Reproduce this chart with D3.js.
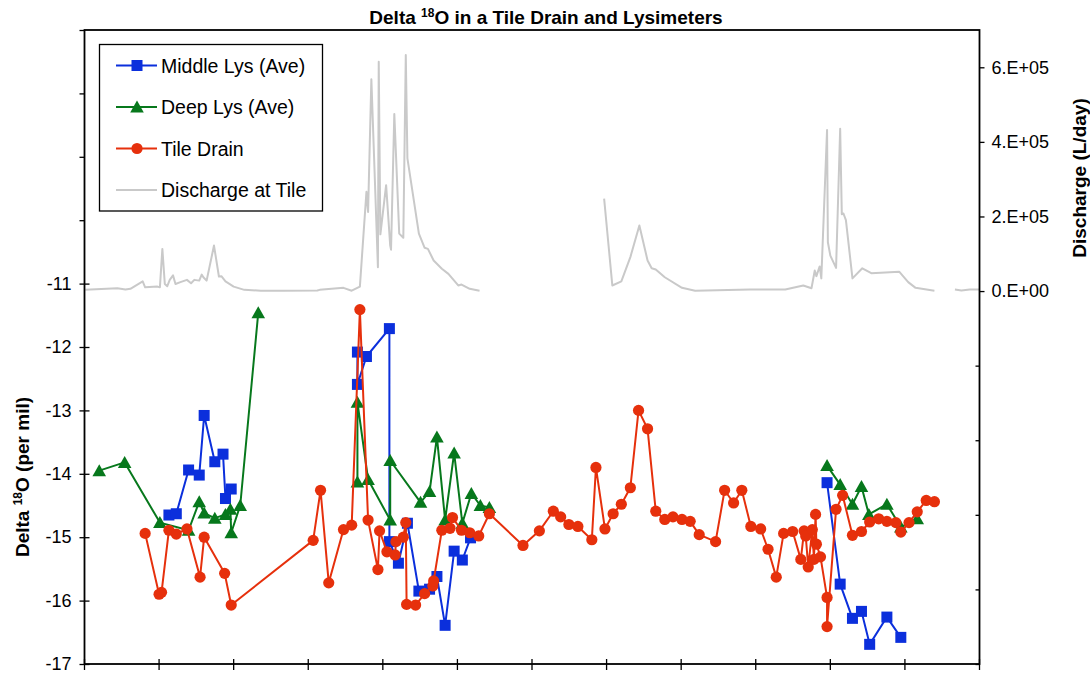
<!DOCTYPE html>
<html>
<head>
<meta charset="utf-8">
<script src="https://cdn.jsdelivr.net/npm/d3@7"></script>
<style>
  html, body { margin: 0; padding: 0; background: #fff; }
  svg { display: block; }
  text { font-family: "Liberation Sans", Arial, sans-serif; fill: #000; }
</style>
</head>
<body>
<svg id="chart" width="1090" height="673"></svg>
<script>
// Sampling day (days from start of record, quarterly grid of 91 days)
const xTicks = d3.range(0, 1093, 91);

// Middle lysimeter, average delta 18O (per mil); null = no sampling period
const middleDay   = [103,112,127,140,146,159,169,172,179, 250, 333,333,344,372,372,383,394,408,421,430,440,451,461,471, 700, 906,922,937,948,958,979,996];
const middleDelta = [-14.65,-14.63,-13.94,-14.02,-13.08,-13.81,-13.69,-14.39,-14.24, null,
  -12.08,-12.59,-12.15,-11.71,-15.07,-15.41,-14.78,-15.85,-15.82,-15.62,-16.39,-15.22,-15.36,-15.01, null,
  -14.14,-15.74,-16.28,-16.17,-16.69,-16.26,-16.58];

// Deep lysimeter, average delta 18O (per mil)
const deepDay   = [18,49,92,127,140,146,159,172,178,179,190,212, 270, 333,333,346,373,373,410,421,430,440,451,461,472,483,494, 700, 906,922,937,948,957,979,996,1016];
const deepDelta = [-13.95,-13.82,-14.77,-14.89,-14.44,-14.62,-14.70,-14.64,-14.56,-14.93,-14.50,-11.46, null,
  -14.13,-12.87,-14.09,-14.73,-13.79,-14.45,-14.28,-13.42,-14.73,-13.67,-14.78,-14.31,-14.50,-14.53, null,
  -13.87,-14.17,-14.48,-14.20,-14.64,-14.48,-14.84,-14.71];

// Tile drain delta 18O (per mil)
const tileDay = [74,91,94,103,112,125,141,146,171,179,279,288,298,316,326,336,346,358,360,369,
  379,380,389,392,393,404,415,425,426,436,446,449,460,470,481,494,535,555,572,581,
  591,602,619,624,635,645,655,666,676,687,697,708,718,729,739,750,770,781,792,802,
  813,825,834,844,853,864,874,878,880,883,888,890,892,893,898,906,906,917,925,937,
  948,958,969,979,990,996,1006,1016,1027,1037];
const tileDelta = [-14.94,-15.90,-15.87,-14.89,-14.95,-14.87,-15.63,-15.00,-15.57,-16.07,
  -15.05,-14.26,-15.72,-14.88,-14.81,-11.41,-14.73,-15.51,-14.90,-15.23,
  -15.28,-15.07,-15.00,-14.77,-16.06,-16.07,-15.89,-15.77,-15.69,-14.89,
  -14.86,-14.69,-14.89,-14.93,-14.98,-14.63,-15.13,-14.90,-14.59,-14.68,
  -14.80,-14.83,-15.04,-13.90,-14.87,-14.63,-14.48,-14.22,-13.00,-13.29,
  -14.59,-14.72,-14.68,-14.72,-14.75,-14.96,-15.07,-14.26,-14.46,-14.26,
  -14.83,-14.87,-15.19,-15.63,-14.94,-14.91,-15.35,-14.90,-14.98,-15.47,
  -14.88,-15.35,-14.64,-15.11,-15.31,-15.95,-16.41,-14.56,-14.34,-14.97,
  -14.91,-14.76,-14.71,-14.75,-14.77,-14.92,-14.77,-14.60,-14.42,-14.44];

// Discharge at the tile outlet (L/day); null = logger gap
const flowDay = [1,40,50,56,71,74,89,92,95,98,101,104,108,111,117,125,130,134,140,143,
  145,149,158,164,167,172,182,195,215,243,284,287,316,326,336,344,346,350,358,359,
  361,368,373,374,378,384,389,392,394,408,415,419,426,436,444,456,460,470,482, 560,
  634,644,655,666,677,687,692,697,708,729,745,812,855,877,887,891,893,897,899,906,
  907,910,917,922,924,926,929,937,949,960,994,1005,1014,1037, 1050, 1062,1070,1080,1092];
const flowValue = [3200,7500,4000,6000,26000,10000,12000,10000,113000,19000,
  13000,30000,42000,19000,24000,30000,21000,30000,28000,44000,
  37000,28000,122000,39000,40000,26000,12000,3200,1000,1000,
  1500,3200,8600,1000,12000,266000,212000,568000,64000,615000,
  152000,284000,122000,111000,475000,154000,143000,633000,356000,154000,
  116000,113000,82000,60000,46000,15000,17500,6000,1000, null,
  248000,15000,26000,91000,176000,82000,61000,58000,37000,8600,
  1000,4000,4000,15000,7500,55000,40000,66000,34000,432000,
  131000,95000,62000,435000,206000,208000,190000,34000,61000,48000,
  52000,24000,8600,1000, null, 4000,1500,4000,4000];

const leftTicks  = d3.range(-17, -6, 1);
const rightTicks = d3.range(-1e6, 7e5, 2e5);

const colors = { middle: "#0b2fdc", deep: "#07781c", tile: "#e6300c", flow: "#c9c9c9" };

const svg = d3.select("#chart");
const M = { left: 84.5, right: 979.5, top: 30, bottom: 664 };

const x  = d3.scaleLinear().domain([0, 1092]).range([M.left, M.right]);
const yL = d3.scaleLinear().domain([-17, -7]).range([M.bottom, M.top]);
const yR = d3.scaleLinear().domain([-1e6, 7e5]).range([M.bottom, M.top]);

const zip = (a, b) => a.map((d, i) => ({ x: d, v: b[i] }));
const middle = zip(middleDay, middleDelta);
const deep   = zip(deepDay, deepDelta);
const tile   = zip(tileDay, tileDelta);
const flow   = zip(flowDay, flowValue);

const font = '"Liberation Sans", Arial, sans-serif';

// Title
const title = svg.append("text")
  .attr("x", 546).attr("y", 24)
  .attr("text-anchor", "middle")
  .attr("font-size", 19).attr("font-weight", "bold");
title.append("tspan").text("Delta ");
title.append("tspan").attr("font-size", 12).attr("dy", -7).text("18");
title.append("tspan").attr("dy", 7).text("O in a Tile Drain and Lysimeters");

// Discharge (secondary axis)
const flowLine = d3.line()
  .defined(d => d.v != null)
  .x(d => x(d.x)).y(d => yR(d.v));
svg.append("path").datum(flow)
  .attr("d", flowLine)
  .attr("fill", "none").attr("stroke", colors.flow).attr("stroke-width", 2)
  .attr("stroke-linejoin", "round");

// Axes
const axisG = svg.append("g");

// x ticks cross the axis
axisG.append("g").selectAll("line").data(xTicks).join("line")
  .attr("x1", d => x(d)).attr("x2", d => x(d))
  .attr("y1", M.bottom - 5).attr("y2", M.bottom + 6)
  .attr("stroke", "#000").attr("stroke-width", 1.3);

// left axis
const left = d3.axisLeft(yL).tickValues(leftTicks).tickSize(5).tickPadding(8)
  .tickFormat(d => d <= -11 ? d3.format("d")(d).replace("\u2212", "-") : "");
const gl = axisG.append("g").attr("transform", `translate(${M.left},0)`).call(left);
gl.select(".domain").remove();
gl.selectAll(".tick line").attr("stroke", "#000").attr("stroke-width", 1.3)
  .attr("x1", d => d <= -11 ? 5 : 0);
gl.selectAll(".tick text").attr("font-size", 18).attr("font-family", font).attr("fill", "#000");

// right axis
const right = d3.axisRight(yR).tickValues(rightTicks).tickSize(5).tickPadding(7)
  .tickFormat(d => d < 0 ? "" : (d === 0 ? "0.E+00" : (d / 1e5) + ".E+05"));
const gr = axisG.append("g").attr("transform", `translate(${M.right},0)`).call(right);
gr.select(".domain").remove();
gr.selectAll(".tick line").attr("stroke", "#000").attr("stroke-width", 1.3)
  .attr("x2", d => d < 0 ? -4 : 5);
gr.selectAll(".tick text").attr("font-size", 18).attr("font-family", font).attr("fill", "#000");

// plot frame
svg.append("rect")
  .attr("x", M.left).attr("y", M.top)
  .attr("width", M.right - M.left).attr("height", M.bottom - M.top)
  .attr("fill", "none").attr("stroke", "#000").attr("stroke-width", 1.8);

// Axis titles
const yTitle = svg.append("text")
  .attr("transform", "translate(29,477) rotate(-90)")
  .attr("text-anchor", "middle")
  .attr("font-size", 19).attr("font-weight", "bold");
yTitle.append("tspan").text("Delta ");
yTitle.append("tspan").attr("font-size", 12).attr("dy", -7).text("18");
yTitle.append("tspan").attr("dy", 7).text("O (per mil)");

svg.append("text")
  .attr("transform", "translate(1086,178) rotate(-90)")
  .attr("text-anchor", "middle")
  .attr("font-size", 19).attr("font-weight", "bold")
  .text("Discharge (L/day)");

// Delta 18O series
const dLine = d3.line()
  .defined(d => d.v != null)
  .x(d => x(d.x)).y(d => yL(d.v));

const triPath = "M0,-6.5L6.8,5.5L-6.8,5.5Z";

function drawSeries(data, color, marker) {
  const g = svg.append("g");
  g.append("path").datum(data)
    .attr("d", dLine)
    .attr("fill", "none").attr("stroke", color).attr("stroke-width", 2)
    .attr("stroke-linejoin", "round");
  const pts = data.filter(d => d.v != null);
  if (marker === "square") {
    g.selectAll("rect").data(pts).join("rect")
      .attr("x", d => x(d.x) - 5.5).attr("y", d => yL(d.v) - 5.5)
      .attr("width", 11).attr("height", 11).attr("fill", color);
  } else if (marker === "circle") {
    g.selectAll("circle").data(pts).join("circle")
      .attr("cx", d => x(d.x)).attr("cy", d => yL(d.v))
      .attr("r", 5.6).attr("fill", color);
  } else {
    g.selectAll("path.m").data(pts).join("path").attr("class", "m")
      .attr("d", triPath)
      .attr("transform", d => `translate(${x(d.x)},${yL(d.v)})`)
      .attr("fill", color);
  }
}

drawSeries(middle, colors.middle, "square");
drawSeries(deep, colors.deep, "triangle");
drawSeries(tile, colors.tile, "circle");

// Legend
const legendItems = [
  { label: "Middle Lys (Ave)", color: colors.middle, marker: "square" },
  { label: "Deep Lys (Ave)", color: colors.deep, marker: "triangle" },
  { label: "Tile Drain", color: colors.tile, marker: "circle" },
  { label: "Discharge at Tile", color: colors.flow, marker: null }
];
const lg = svg.append("g");
lg.append("rect")
  .attr("x", 99.5).attr("y", 44.5).attr("width", 223).attr("height", 166.5)
  .attr("fill", "#fff").attr("stroke", "#000").attr("stroke-width", 1.3);
const rowY = [65.5, 107, 148.5, 190];
legendItems.forEach((it, i) => {
  const cy = rowY[i];
  const row = lg.append("g");
  row.append("line").attr("x1", 116).attr("x2", 157).attr("y1", cy).attr("y2", cy)
    .attr("stroke", it.color).attr("stroke-width", 2);
  if (it.marker === "square") {
    row.append("rect").attr("x", 131.5).attr("y", cy - 5.5).attr("width", 11).attr("height", 11).attr("fill", it.color);
  } else if (it.marker === "circle") {
    row.append("circle").attr("cx", 137).attr("cy", cy).attr("r", 5.6).attr("fill", it.color);
  } else if (it.marker === "triangle") {
    row.append("path").attr("d", triPath).attr("transform", `translate(137,${cy})`).attr("fill", it.color);
  }
  row.append("text").attr("x", 161).attr("y", cy + 7)
    .attr("font-size", 19.5).text(it.label);
});
</script>
</body>
</html>
